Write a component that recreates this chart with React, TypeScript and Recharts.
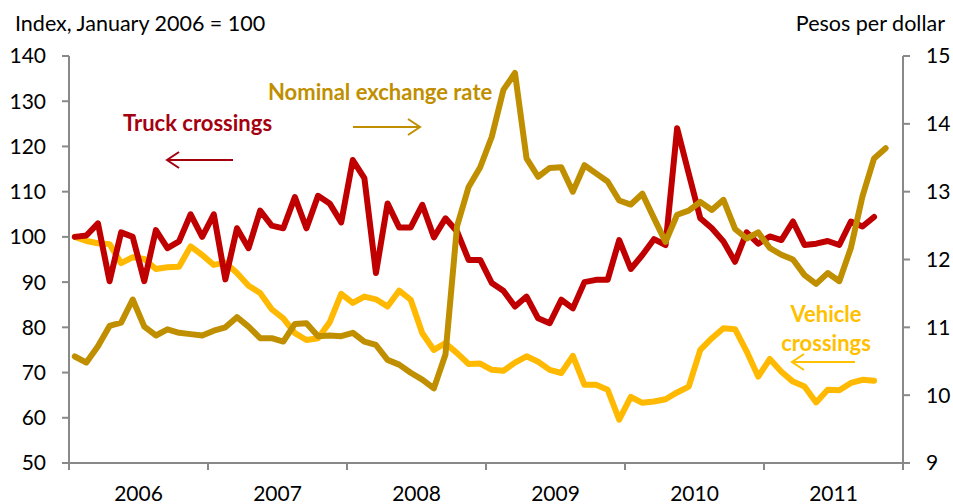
import { LineChart, Line, XAxis, YAxis } from "recharts";

const yearLabels = ["2006", "2007", "2008", "2009", "2010", "2011"];

// monthly, Jan 2006 - Oct 2011
const truckCrossings = [
  100, 100.3, 103, 90.2, 101, 100, 90.2, 101.5, 97.5, 99, 105, 100,
  105, 90.6, 101.9, 97.5, 105.8, 102.5, 101.9, 108.8, 101.9, 109.1, 107.4, 103.2,
  117, 113, 92, 107.4, 102.1, 102.1, 107.1, 99.9, 104.1, 101.2, 94.9, 94.9,
  89.8, 88.1, 84.6, 86.8, 82, 80.9, 86.1, 84.2, 90, 90.5, 90.5, 99.3,
  92.9, 96, 99.5, 98.2, 124, 114, 104.1, 101.9, 99, 94.5, 101, 98.5,
  100.1, 99.3, 103.4, 98.2, 98.5, 99.1, 98.2, 103.4, 102.3, 104.4,
];

const vehicleCrossings = [
  100, 99.1, 98.6, 98.4, 94.2, 95.5, 95.1, 92.9, 93.3, 93.4, 97.9, 96,
  93.8, 94.3, 92, 89.2, 87.6, 84, 82, 78.7, 77.2, 77.6, 81.1, 87.4,
  85.4, 86.8, 86.2, 84.6, 88.1, 86.1, 78.7, 75, 76.5, 74.3, 71.9, 72,
  70.6, 70.4, 72.2, 73.6, 72.4, 70.6, 69.9, 73.7, 67.3, 67.3, 66.2, 59.6,
  64.6, 63.3, 63.6, 64.1, 65.6, 66.9, 75, 77.6, 79.8, 79.6, 74.7, 69.1,
  73, 70.2, 68, 66.9, 63.4, 66.2, 66.1, 67.7, 68.4, 68.2,
];

// pesos per dollar, Jan 2006 - Nov 2011
const exchangeRate = [
  10.57, 10.48, 10.72, 11.02, 11.07, 11.41, 11.01, 10.88, 10.97, 10.92, 10.9, 10.88,
  10.95, 11.0, 11.15, 11.01, 10.84, 10.84, 10.79, 11.05, 11.06, 10.87, 10.88, 10.87,
  10.92, 10.79, 10.74, 10.52, 10.45, 10.33, 10.23, 10.1, 10.6, 12.49, 13.07, 13.36,
  13.81, 14.5, 14.75, 13.49, 13.22, 13.35, 13.36, 13.0, 13.39, 13.27, 13.15, 12.87,
  12.81, 12.97, 12.61, 12.26, 12.66, 12.72, 12.85, 12.73, 12.88, 12.45, 12.31, 12.4,
  12.17, 12.07, 12.0, 11.77, 11.64, 11.8, 11.68, 12.17, 12.93, 13.49, 13.64,
];

const leftTicks = [50, 60, 70, 80, 90, 100, 110, 120, 130, 140];
const rightTicks = [9, 10, 11, 12, 13, 14, 15];
const yearTicks = [0, 12, 24, 36, 48, 60, 72];

const data = exchangeRate.map((ex, i) => ({
  t: i + 0.5,
  truck: truckCrossings[i],
  vehicle: vehicleCrossings[i],
  peso: ex,
}));

const W = 953;
const H = 504;
const M = { top: 56, right: 0, bottom: 11, left: 19 };
const YW = 50;
const plotW = W - M.left - M.right - 2 * YW;
const halfYear = (plotW / 72) * 6;

const font = "Lato, 'Open Sans', sans-serif";
const axisColor = "#898989";

const YearTick = (props: any) => {
  const { x, y, payload } = props;
  const idx = payload.value / 12;
  if (idx >= yearLabels.length) return <g />;
  return (
    <text x={x + halfYear} y={y} dy="0.71em" textAnchor="middle" fill="#000" fontSize={21} fontFamily={font}>
      {yearLabels[idx]}
    </text>
  );
};

const Arrow = ({ x1, x2, y, color }: { x1: number; x2: number; y: number; color: string }) => {
  const dir = x2 > x1 ? 1 : -1;
  return (
    <g stroke={color} strokeWidth={2} fill="none">
      <line x1={x1} y1={y} x2={x2} y2={y} />
      <polyline points={`${x2 - dir * 12},${y - 8} ${x2},${y} ${x2 - dir * 12},${y + 8}`} />
    </g>
  );
};

export default function App() {
  return (
    <div style={{ position: "absolute", left: 0, top: 0, width: W, height: H, background: "#fff" }}>
      <LineChart width={W} height={H} data={data} margin={M}>
        <XAxis
          dataKey="t"
          type="number"
          domain={[0, 72]}
          ticks={yearTicks}
          tick={<YearTick />}
          tickSize={7}
          tickMargin={16}
          height={30}
          stroke={axisColor}
          strokeWidth={2}
          interval={0}
        />
        <YAxis
          yAxisId="left"
          domain={[50, 140]}
          ticks={leftTicks}
          width={YW}
          tickSize={7}
          tickMargin={16}
          stroke={axisColor}
          strokeWidth={2}
          tick={{ fill: "#000", fontSize: 21, fontFamily: font }}
          interval={0}
        />
        <YAxis
          yAxisId="right"
          orientation="right"
          domain={[9, 15]}
          ticks={rightTicks}
          width={YW}
          tickSize={7}
          tickMargin={16}
          stroke={axisColor}
          strokeWidth={2}
          tick={{ fill: "#000", fontSize: 21, fontFamily: font }}
          interval={0}
        />
        <Line
          yAxisId="left"
          dataKey="vehicle"
          type="linear"
          stroke="#FFB900"
          strokeWidth={6}
          strokeLinejoin="round"
          strokeLinecap="round"
          dot={false}
          isAnimationActive={false}
        />
        <Line
          yAxisId="left"
          dataKey="truck"
          type="linear"
          stroke="#C00000"
          strokeWidth={6}
          strokeLinejoin="round"
          strokeLinecap="round"
          dot={false}
          isAnimationActive={false}
        />
        <Line
          yAxisId="right"
          dataKey="peso"
          type="linear"
          stroke="#BF8F00"
          strokeWidth={6}
          strokeLinejoin="round"
          strokeLinecap="round"
          dot={false}
          isAnimationActive={false}
        />
      </LineChart>
      <svg width={W} height={H} style={{ position: "absolute", left: 0, top: 0, pointerEvents: "none" }}>
        <g fontFamily={font}>
          <text x={15} y={31} fontSize={21.5} fill="#000">Index, January 2006 = 100</text>
          <text x={945} y={31} fontSize={21.5} fill="#000" textAnchor="end">Pesos per dollar</text>
          <text x={123} y={131} fontSize={22} fontWeight="bold" fill="#A50010">Truck crossings</text>
          <text x={268} y={100} fontSize={22} fontWeight="bold" fill="#BF8F00">Nominal exchange rate</text>
          <text x={826} y={322} fontSize={22} fontWeight="bold" fill="#FFC000" textAnchor="middle">Vehicle</text>
          <text x={826} y={351} fontSize={22} fontWeight="bold" fill="#FFC000" textAnchor="middle">crossings</text>
        </g>
        <Arrow x1={233} x2={167} y={160} color="#A50010" />
        <Arrow x1={353} x2={420} y={127} color="#BF8F00" />
        <Arrow x1={855} x2={792} y={362} color="#FFC000" />
      </svg>
    </div>
  );
}
